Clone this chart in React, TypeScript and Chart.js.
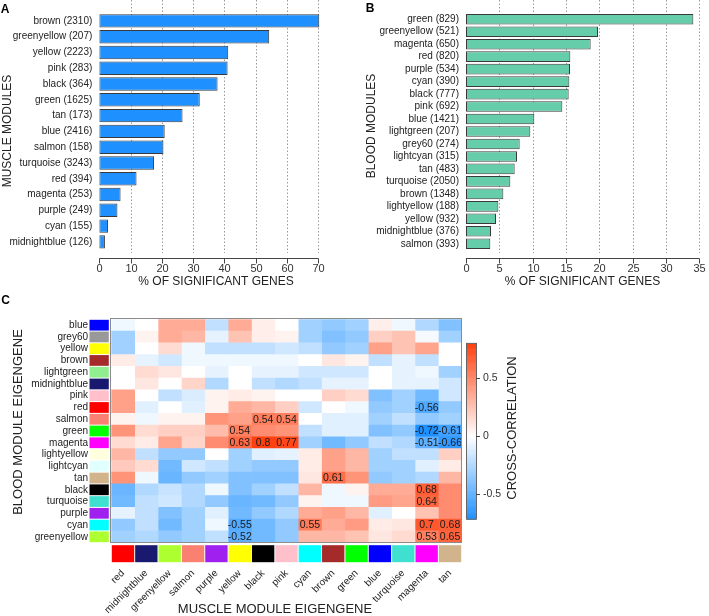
import React, { useEffect, useRef } from 'react';
import { Chart, registerables } from 'chart.js';
Chart.register(...registerables);

const FONT = "'Liberation Sans', Arial, Helvetica, sans-serif";

// ---------- Panel A ----------
const muscleModules = ['brown (2310)', 'greenyellow (207)', 'yellow (2223)', 'pink (283)', 'black (364)', 'green (1625)', 'tan (173)', 'blue (2416)', 'salmon (158)', 'turquoise (3243)', 'red (394)', 'magenta (253)', 'purple (249)', 'cyan (155)', 'midnightblue (126)'];
const musclePct = [70.3, 54.3, 41.2, 41.0, 37.8, 32.1, 26.6, 20.9, 20.5, 17.5, 11.9, 6.8, 5.8, 2.8, 1.8];
const muscleTicks = [0, 10, 20, 30, 40, 50, 60, 70];

// ---------- Panel B ----------
const bloodModules = ['green (829)', 'greenyellow (521)', 'magenta (650)', 'red (820)', 'purple (534)', 'cyan (390)', 'black (777)', 'pink (692)', 'blue (1421)', 'lightgreen (207)', 'grey60 (274)', 'lightcyan (315)', 'tan (483)', 'turquoise (2050)', 'brown (1348)', 'lightyellow (188)', 'yellow (932)', 'midnightblue (376)', 'salmon (393)'];
const bloodPct = [34.1, 19.8, 18.7, 15.65, 15.6, 15.5, 15.4, 14.45, 10.25, 9.65, 8.05, 7.65, 7.3, 6.65, 5.6, 4.85, 4.5, 3.75, 3.65];
const bloodTicks = [0, 5, 10, 15, 20, 25, 30, 35];

// ---------- Panel C ----------
const heatRows = ['blue', 'grey60', 'yellow', 'brown', 'lightgreen', 'midnightblue', 'pink', 'red', 'salmon', 'green', 'magenta', 'lightyellow', 'lightcyan', 'tan', 'black', 'turquoise', 'purple', 'cyan', 'greenyellow'];
const heatCols = ['red', 'midnightblue', 'greenyellow', 'salmon', 'purple', 'yellow', 'black', 'pink', 'cyan', 'brown', 'green', 'blue', 'turquoise', 'magenta', 'tan'];
const colorbarTicks = [-0.5, 0, 0.5];

// one array per blood module row, values in heatCols order
const rowBlue = [-0.05, 0, 0.35, 0.35, -0.2, 0.35, 0.07, 0, -0.3, -0.35, -0.3, 0.07, -0.05, -0.25, -0.4];
const rowGrey60 = [-0.3, 0.05, 0.35, 0.3, -0.08, 0.25, 0.07, 0.05, -0.3, -0.4, -0.35, 0.2, 0.25, -0.03, -0.3];
const rowYellow = [-0.3, 0, 0.15, -0.05, -0.2, -0.2, -0.2, -0.15, -0.2, -0.35, -0.3, 0.4, 0.25, 0.38, 0];
const rowBrown = [0.08, -0.08, -0.15, -0.05, -0.05, -0.05, -0.05, -0.05, 0, 0.1, 0.05, -0.2, -0.08, -0.2, 0];
const rowLightgreen = [0, 0.15, 0.1, 0, -0.08, 0, -0.08, -0.08, -0.15, -0.15, -0.15, 0, -0.08, -0.05, -0.3];
const rowMidnightblue = [0, 0.1, 0, 0.18, -0.25, 0, -0.2, -0.25, -0.2, -0.08, -0.08, 0, -0.08, -0.08, -0.15];
const rowPink = [0.4, 0, -0.2, -0.12, 0.05, 0.08, 0.05, 0, 0, 0.2, 0.15, -0.4, -0.3, -0.45, -0.15];
const rowRed = [0.4, -0.1, 0, -0.1, 0.05, 0.35, 0.3, 0.2, -0.15, 0, -0.05, -0.35, -0.3, -0.56, -0.35];
const rowSalmon = [0.05, -0.05, 0.05, 0.05, 0.45, 0.4, 0.54, 0.54, 0, -0.1, -0.1, -0.3, -0.2, -0.35, -0.3];
const rowGreen = [0.45, 0.15, 0.2, 0.2, 0.28, 0.54, 0.48, 0.45, -0.2, -0.1, -0.1, -0.4, -0.35, -0.72, -0.61];
const rowMagenta = [0.15, 0.08, 0.38, 0.18, 0.48, 0.63, 0.8, 0.77, -0.3, -0.45, -0.35, -0.2, -0.25, -0.51, -0.66];
const rowLightyellow = [0.3, -0.2, -0.35, -0.35, 0, -0.3, -0.1, -0.08, 0.08, 0.4, 0.3, -0.3, -0.2, -0.2, 0.2];
const rowLightcyan = [0.22, 0.15, -0.45, -0.15, -0.2, -0.3, -0.35, -0.35, 0.08, 0.4, 0.3, -0.3, -0.3, -0.1, 0.08];
const rowTan = [0.45, -0.05, -0.48, -0.35, -0.3, -0.4, -0.4, -0.4, 0.1, 0.61, 0.45, -0.35, -0.3, -0.25, 0.3];
const rowBlack = [-0.48, -0.25, -0.18, -0.25, -0.05, -0.4, -0.3, -0.2, 0.3, -0.05, 0.05, 0.35, 0.35, 0.68, 0.48];
const rowTurquoise = [-0.45, -0.2, -0.15, -0.25, -0.35, -0.48, -0.45, -0.35, 0.05, -0.05, -0.05, 0.42, 0.38, 0.64, 0.48];
const rowPurple = [-0.08, -0.2, -0.4, -0.3, -0.1, -0.45, -0.35, -0.25, 0.35, 0.4, 0.3, -0.1, 0, 0.25, 0.48];
const rowCyan = [-0.35, -0.2, -0.45, -0.3, -0.05, -0.55, -0.45, -0.35, 0.55, 0.35, 0.42, 0.08, 0.1, 0.7, 0.68];
const rowGreenyellow = [-0.3, -0.25, -0.35, -0.3, -0.2, -0.52, -0.45, -0.35, 0.3, 0.3, 0.25, 0.1, 0.15, 0.53, 0.65];

const heatValues = [rowBlue, rowGrey60, rowYellow, rowBrown, rowLightgreen, rowMidnightblue, rowPink, rowRed, rowSalmon, rowGreen, rowMagenta, rowLightyellow, rowLightcyan, rowTan, rowBlack, rowTurquoise, rowPurple, rowCyan, rowGreenyellow];

const moduleColor: Record<string, string> = {
  blue: '#0000FF', grey60: '#999999', yellow: '#FFFF00', brown: '#A52A2A', lightgreen: '#90EE90',
  midnightblue: '#191970', pink: '#FFC0CB', red: '#FF0000', salmon: '#FA8072', green: '#00FF00',
  magenta: '#FF00FF', lightyellow: '#FFFFE0', lightcyan: '#E0FFFF', tan: '#D2B48C', black: '#000000',
  turquoise: '#40E0D0', purple: '#A020F0', cyan: '#00FFFF', greenyellow: '#ADFF2F',
};

const CB_MIN = -0.72;
const CB_MAX = 0.8;
const BLUE_END = [30, 144, 255];
const RED_END = [255, 64, 16];

function heatColor(v: number): string {
  const end = v >= 0 ? RED_END : BLUE_END;
  const t = Math.min(1, v >= 0 ? v / CB_MAX : v / CB_MIN);
  const c = end.map((e) => Math.round(255 + (e - 255) * t));
  return `rgb(${c[0]},${c[1]},${c[2]})`;
}

type AxisOpts = {
  ticks: number[]; axisY: number; title: string; titleX: number; titleY: number;
  yTitle: string; yTitleX: number; yTitleY: number; letter: string; letterX: number; letterY: number;
};

function rAxisPlugin(o: AxisOpts) {
  return {
    id: 'rAxis',
    beforeDatasetsDraw(chart: any) {
      const ctx = chart.ctx;
      const xs = chart.scales.x;
      ctx.save();
      ctx.strokeStyle = '#9a9a9a';
      ctx.lineWidth = 1;
      ctx.setLineDash([1.5, 2]);
      o.ticks.forEach((t) => {
        if (t === 0) return;
        const px = Math.round(xs.getPixelForValue(t)) + 0.5;
        ctx.beginPath();
        ctx.moveTo(px, 0);
        ctx.lineTo(px, 253);
        ctx.stroke();
      });
      ctx.restore();
    },
    afterDraw(chart: any) {
      const ctx = chart.ctx;
      const xs = chart.scales.x;
      ctx.save();
      ctx.strokeStyle = '#444';
      ctx.lineWidth = 1;
      const y = o.axisY + 0.5;
      const x0 = xs.getPixelForValue(o.ticks[0]);
      const x1 = xs.getPixelForValue(o.ticks[o.ticks.length - 1]);
      ctx.beginPath();
      ctx.moveTo(x0, y);
      ctx.lineTo(x1, y);
      ctx.stroke();
      ctx.fillStyle = '#333';
      ctx.font = `11px ${FONT}`;
      ctx.textAlign = 'center';
      ctx.textBaseline = 'middle';
      o.ticks.forEach((t) => {
        const px = Math.round(xs.getPixelForValue(t)) + 0.5;
        ctx.beginPath();
        ctx.moveTo(px, y);
        ctx.lineTo(px, y + 5);
        ctx.stroke();
        ctx.fillText(String(t), px, o.axisY + 10.5);
      });
      ctx.font = `12px ${FONT}`;
      ctx.fillStyle = '#222';
      ctx.fillText(o.title, o.titleX, o.titleY);
      ctx.save();
      ctx.translate(o.yTitleX, o.yTitleY);
      ctx.rotate(-Math.PI / 2);
      ctx.fillText(o.yTitle, 0, 0);
      ctx.restore();
      ctx.font = `bold 12px ${FONT}`;
      ctx.fillStyle = '#000';
      ctx.fillText(o.letter, o.letterX, o.letterY);
      ctx.restore();
    },
  };
}

function barConfig(labels: string[], values: number[], color: string, xMax: number, yWidth: number, padding: any, plugin: any): any {
  return {
    type: 'bar',
    data: {
      labels,
      datasets: [{
        data: values,
        backgroundColor: color,
        borderColor: '#3a3a3a',
        borderWidth: 1,
        borderSkipped: false,
        barPercentage: 0.85,
        categoryPercentage: 1,
      }],
    },
    options: {
      animation: false,
      responsive: false,
      indexAxis: 'y',
      layout: { padding },
      plugins: { legend: { display: false }, tooltip: { enabled: false } },
      scales: {
        x: { type: 'linear', display: false, min: 0, max: xMax },
        y: {
          grid: { display: false, drawTicks: false },
          border: { display: false },
          ticks: { font: { size: 10, family: FONT }, color: '#222', padding: 7, autoSkip: false },
          afterFit: (s: any) => { s.width = yWidth; },
        },
      },
    },
    plugins: [plugin],
  };
}

const heatPlugin = {
  id: 'heatExtras',
  afterDatasetsDraw(chart: any) {
    const ctx = chart.ctx;
    const xs = chart.scales.x;
    const ys = chart.scales.y;
    const cb = chart.scales.cb;
    const area = chart.chartArea;
    ctx.save();
    // cell labels
    ctx.font = `10.5px ${FONT}`;
    ctx.fillStyle = '#1a1a1a';
    ctx.textAlign = 'center';
    ctx.textBaseline = 'middle';
    heatValues.forEach((row, r) => row.forEach((v, c) => {
      if (Math.abs(v) >= 0.5) ctx.fillText(String(v), xs.getPixelForValue(c + 0.5), ys.getPixelForValue(r) + 0.5);
    }));
    // border
    ctx.strokeStyle = '#8c8c8c';
    ctx.lineWidth = 1;
    ctx.strokeRect(Math.round(area.left) - 0.5, Math.round(area.top) - 0.5, Math.round(area.right - area.left) + 1, Math.round(area.bottom - area.top) + 1);
    // row swatches
    const bandH = (area.bottom - area.top) / heatRows.length;
    heatRows.forEach((name, r) => {
      const cy = ys.getPixelForValue(r);
      ctx.fillStyle = moduleColor[name];
      ctx.fillRect(89.5, cy - bandH / 2 + 0.5, 19.3, bandH - 1);
    });
    // column swatches and labels
    const bandW = xs.getPixelForValue(1) - xs.getPixelForValue(0);
    heatCols.forEach((name, c) => {
      const x0 = xs.getPixelForValue(c);
      ctx.fillStyle = moduleColor[name];
      ctx.fillRect(x0 + 0.5, area.bottom + 2.5, bandW - 1, 17);
    });
    ctx.font = `10px ${FONT}`;
    ctx.fillStyle = '#222';
    ctx.textAlign = 'right';
    ctx.textBaseline = 'middle';
    heatCols.forEach((name, c) => {
      const cx = xs.getPixelForValue(c + 0.5);
      ctx.save();
      ctx.translate(cx, area.bottom + 29);
      ctx.rotate(-Math.PI / 4);
      ctx.fillText(name, 0, 0);
      ctx.restore();
    });
    // colour bar
    const cbL = 467;
    const cbR = 476;
    const steps = 152;
    for (let i = 0; i < steps; i++) {
      const v0 = CB_MIN + ((CB_MAX - CB_MIN) * i) / steps;
      const v1 = CB_MIN + ((CB_MAX - CB_MIN) * (i + 1)) / steps;
      const yA = cb.getPixelForValue(v1);
      const yB = cb.getPixelForValue(v0);
      ctx.fillStyle = heatColor((v0 + v1) / 2);
      ctx.fillRect(cbL, yA, cbR - cbL, yB - yA + 0.6);
    }
    ctx.strokeStyle = '#666';
    ctx.lineWidth = 1;
    const cbTop = cb.getPixelForValue(CB_MAX);
    const cbBot = cb.getPixelForValue(CB_MIN);
    ctx.strokeRect(cbL - 0.5, cbTop, cbR - cbL + 1, cbBot - cbTop);
    ctx.font = `10.5px ${FONT}`;
    ctx.fillStyle = '#333';
    ctx.textAlign = 'left';
    ctx.strokeStyle = '#444';
    colorbarTicks.forEach((t) => {
      const py = Math.round(cb.getPixelForValue(t)) + 0.5;
      ctx.beginPath();
      ctx.moveTo(cbR, py);
      ctx.lineTo(cbR + 4, py);
      ctx.stroke();
      ctx.fillText(String(t), cbR + 7, py);
    });
    // titles
    ctx.font = `13px ${FONT}`;
    ctx.fillStyle = '#222';
    ctx.textAlign = 'center';
    ctx.fillText('MUSCLE MODULE EIGENGENE', 275, 319);
    ctx.save();
    ctx.translate(18.5, 132);
    ctx.rotate(-Math.PI / 2);
    ctx.fillText('BLOOD MODULE EIGENGENE', 0, 0);
    ctx.restore();
    ctx.save();
    ctx.translate(512, 138);
    ctx.rotate(-Math.PI / 2);
    ctx.fillText('CROSS-CORRELATION', 0, 0);
    ctx.restore();
    ctx.font = `bold 12px ${FONT}`;
    ctx.fillStyle = '#000';
    ctx.fillText('C', 5.5, 11);
    ctx.restore();
  },
};

function heatConfig(): any {
  const datasets = heatCols.map((col, c) => ({
    label: col,
    data: heatRows.map(() => 1),
    backgroundColor: heatValues.map((row) => heatColor(row[c])),
    borderWidth: 0,
    barPercentage: 1,
    categoryPercentage: 1,
    xAxisID: 'x',
    yAxisID: 'y',
  }));
  return {
    type: 'bar',
    data: { labels: heatRows, datasets },
    options: {
      animation: false,
      responsive: false,
      indexAxis: 'y',
      layout: { padding: { top: 7.3, bottom: 73.3, left: 0, right: 247.3 } },
      plugins: { legend: { display: false }, tooltip: { enabled: false } },
      scales: {
        x: { type: 'linear', display: false, stacked: true, min: 0, max: heatCols.length },
        y: {
          stacked: true,
          grid: { display: false, drawTicks: false },
          border: { display: false },
          ticks: { font: { size: 10, family: FONT }, color: '#222', padding: 23.3, autoSkip: false },
          afterFit: (s: any) => { s.width = 111.3; },
        },
        cb: { type: 'linear', axis: 'y', display: false, min: -0.816, max: 0.901 },
      },
    },
    plugins: [heatPlugin],
  };
}

export default function App() {
  const refA = useRef<HTMLCanvasElement>(null);
  const refB = useRef<HTMLCanvasElement>(null);
  const refC = useRef<HTMLCanvasElement>(null);

  useEffect(() => {
    const a = new Chart(refA.current as HTMLCanvasElement, barConfig(
      muscleModules, musclePct, '#1E90FF', 72, 99.3,
      { top: 9.8, bottom: 45.2, left: 0, right: 25.4 },
      rAxisPlugin({
        ticks: muscleTicks, axisY: 258, title: '% OF SIGNIFICANT GENES', titleX: 216, titleY: 282,
        yTitle: 'MUSCLE MODULES', yTitleX: 7.5, yTitleY: 131, letter: 'A', letterX: 5, letterY: 9.7,
      }),
    ));
    const b = new Chart(refB.current as HTMLCanvasElement, barConfig(
      bloodModules, bloodPct, '#66CDAA', 36, 116,
      { top: 11, bottom: 45, left: 0, right: 3 },
      rAxisPlugin({
        ticks: bloodTicks, axisY: 258, title: '% OF SIGNIFICANT GENES', titleX: 232.5, titleY: 282,
        yTitle: 'BLOOD MODULES', yTitleX: 22, yTitleY: 126, letter: 'B', letterX: 20, letterY: 9,
      }),
    ));
    const c = new Chart(refC.current as HTMLCanvasElement, heatConfig());
    return () => { a.destroy(); b.destroy(); c.destroy(); };
  }, []);

  return (
    <div style={{ position: 'absolute', left: 0, top: 0, width: 709, height: 616, background: '#fff', overflow: 'hidden' }}>
      <canvas ref={refA} width={350} height={295} style={{ position: 'absolute', left: 0, top: 0, width: 350, height: 295 }} />
      <canvas ref={refB} width={359} height={295} style={{ position: 'absolute', left: 350, top: 0, width: 359, height: 295 }} />
      <canvas ref={refC} width={709} height={326} style={{ position: 'absolute', left: 0, top: 290, width: 709, height: 326 }} />
    </div>
  );
}
